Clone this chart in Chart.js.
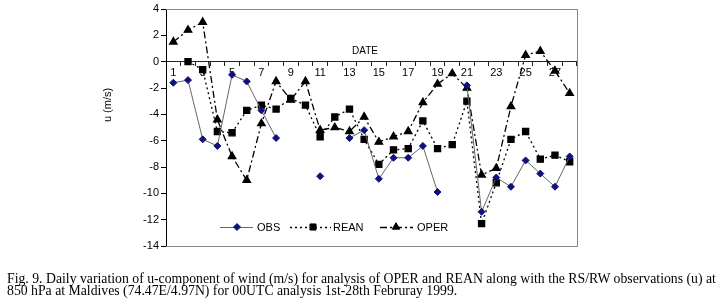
<!DOCTYPE html>
<html>
<head>
<meta charset="utf-8">
<script src="https://cdn.jsdelivr.net/npm/chart.js@4/dist/chart.umd.min.js"></script>
<style>
  html, body { margin: 0; padding: 0; background: #fff; }
  #wrap { position: relative; width: 719px; height: 300px; overflow: hidden; }
  #c { position: absolute; left: 0; top: 0; }
  #cap { position: absolute; left: 7px; top: 273px; font-family: "Liberation Serif", "Times New Roman", serif;
         font-size: 13.75px; line-height: 12px; color: #000; white-space: nowrap; }
</style>
</head>
<body>
<div id="wrap">
  <canvas id="c" width="719" height="300"></canvas>
  <div id="cap">Fig. 9. Daily variation of u-component of wind (m/s) for analysis of OPER and REAN along with the RS/RW observations (u) at<br>850 hPa at Maldives (74.47E/4.97N) for 00UTC analysis 1st-28th Februray 1999.</div>
</div>
<script>
const days = ['1','2','3','4','5','6','7','8','9','10','11','12','13','14','15','16','17','18','19','20','21','22','23','24','25','26','27','28'];
const obs  = [-1.6,-1.4,-5.9,-6.4,-1.0,-1.5,-3.7,-5.8,null,null,-8.7,null,-5.8,-5.2,-8.9,-7.3,-7.3,-6.4,-9.9,null,-1.8,-11.4,-8.8,-9.5,-7.5,-8.5,-9.5,-7.2];
const rean = [null,0.0,-0.6,-5.3,-5.4,-3.7,-3.3,-3.6,-2.8,-3.3,-5.7,-4.2,-3.6,-5.9,-7.8,-6.7,-6.6,-4.5,-6.6,-6.3,-3.0,-12.3,-9.2,-5.9,-5.3,-7.4,-7.1,-7.6];
const oper = [1.5,2.4,3.0,-4.4,-7.2,-9.0,-4.7,-1.5,-2.9,-1.5,-5.2,-5.0,-5.3,-4.2,-6.1,-5.7,-5.3,-3.1,-1.7,-0.9,-2.0,-8.6,-8.1,-3.4,0.5,0.8,-0.7,-2.4];
const yTicks = [-14,-12,-10,-8,-6,-4,-2,0,2,4];
const seriesNames = ['OBS','REAN','OPER'];
const xTitle = 'DATE';
const yTitle = 'u (m/s)';

const FONT = '"Liberation Sans", Arial, sans-serif';

const framePlugin = {
  id: 'frame',
  afterDatasetsDraw(chart) {
    const {ctx, chartArea: a, scales} = chart;
    ctx.save();
    ctx.strokeStyle = '#888';
    ctx.lineWidth = 1;
    ctx.beginPath();
    ctx.moveTo(a.left, a.top + 0.5);
    ctx.lineTo(a.right + 0.5, a.top + 0.5);
    ctx.lineTo(a.right + 0.5, a.bottom + 0.5);
    ctx.lineTo(a.left, a.bottom + 0.5);
    ctx.stroke();
    ctx.fillStyle = '#000';
    ctx.font = '10px ' + FONT;
    ctx.textAlign = 'center';
    ctx.textBaseline = 'middle';
    const y0 = scales.y.getPixelForValue(0);
    ctx.fillText(xTitle, 365, y0 - 10);
    ctx.save();
    ctx.translate(108, 105);
    ctx.rotate(-Math.PI / 2);
    ctx.font = '11px ' + FONT;
    ctx.fillText(yTitle, 0, 0);
    ctx.restore();
    const ly = 227;
    const items = [
      {ds: chart.data.datasets[0], x1: 220, x2: 253, mx: 237, tx: 257},
      {ds: chart.data.datasets[1], x1: 290, x2: 331, mx: 313, tx: 333},
      {ds: chart.data.datasets[2], x1: 380, x2: 413, mx: 396, tx: 417}
    ];
    ctx.font = '11px ' + FONT;
    ctx.textAlign = 'left';
    items.forEach(it => {
      const ds = it.ds;
      ctx.save();
      ctx.strokeStyle = ds.borderColor;
      ctx.lineWidth = ds.borderWidth;
      ctx.setLineDash(ds.borderDash || []);
      ctx.beginPath();
      ctx.moveTo(it.x1, ly + 0.5);
      ctx.lineTo(it.x2, ly + 0.5);
      ctx.stroke();
      ctx.restore();
      ctx.save();
      ctx.fillStyle = ds.pointBackgroundColor;
      ctx.strokeStyle = ds.pointBorderColor;
      ctx.lineWidth = 1;
      ctx.setLineDash([]);
      Chart.helpers.drawPoint(ctx, {
        pointStyle: ds.pointStyle, radius: ds.pointRadius, borderWidth: 1, rotation: 0
      }, it.mx, ly);
      ctx.restore();
      ctx.fillStyle = '#000';
      ctx.fillText(ds.label, it.tx, ly + 1);
    });
    ctx.restore();
  }
};

const chart = new Chart(document.getElementById('c'), {
  type: 'line',
  data: {
    labels: days,
    datasets: [
      {label: seriesNames[0], data: obs, borderColor: '#666', borderWidth: 1, pointStyle: 'rectRot',
       pointRadius: 3.5, pointBackgroundColor: '#10107a', pointBorderColor: '#10107a', spanGaps: false, tension: 0},
      {label: seriesNames[1], data: rean, borderColor: '#000', borderWidth: 1.3, borderDash: [2, 3], pointStyle: 'rect',
       pointRadius: 4.3, pointBackgroundColor: '#000', pointBorderColor: '#000', spanGaps: false, tension: 0},
      {label: seriesNames[2], data: oper, borderColor: '#000', borderWidth: 1.3, borderDash: [7, 3, 2, 3], pointStyle: 'triangle',
       pointRadius: 4.3, pointBackgroundColor: '#000', pointBorderColor: '#000', spanGaps: false, tension: 0}
    ]
  },
  options: {
    responsive: false,
    animation: false,
    devicePixelRatio: 1,
    layout: {padding: {left: 0, right: 142, top: 9, bottom: 54}},
    plugins: {legend: {display: false}, tooltip: {enabled: false}},
    scales: {
      x: {
        type: 'category',
        position: {y: 0},
        offset: true,
        grid: {offset: true, drawOnChartArea: false, drawTicks: true, tickLength: 4, color: '#222'},
        border: {display: true, color: '#222', width: 1},
        ticks: {autoSkip: false, maxRotation: 0, padding: 1, color: '#000', font: {family: FONT, size: 11},
                callback: (v, i) => (i % 2 === 0 ? days[i] : '')}
      },
      y: {
        min: -14, max: 4,
        afterBuildTicks: s => { s.ticks = yTicks.map(v => ({value: v})); },
        afterFit: s => { s.width = 166; },
        grid: {drawOnChartArea: false, drawTicks: true, tickLength: 5, color: '#000'},
        border: {display: true, color: '#000', width: 1},
        ticks: {padding: 2, color: '#000', font: {family: FONT, size: 11}}
      }
    }
  },
  plugins: [framePlugin]
});
</script>
</body>
</html>
